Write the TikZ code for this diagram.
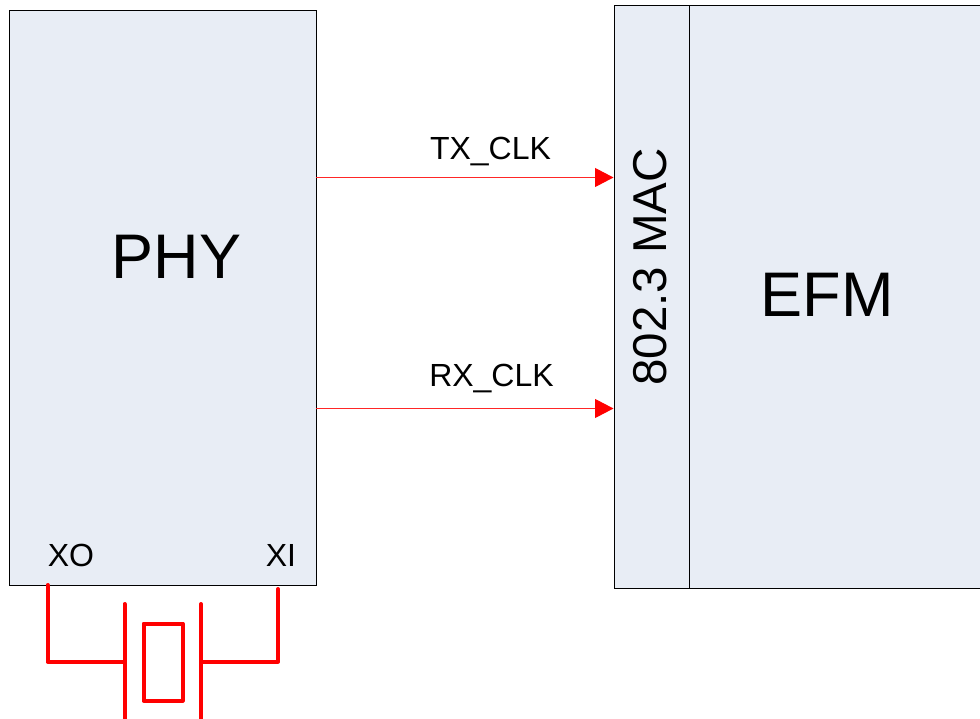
\documentclass[tikz,border=0pt]{standalone}
\usepackage{fontspec}
\setmainfont{Liberation Sans}
\usetikzlibrary{arrows.meta}
\definecolor{blockfill}{HTML}{E8EDF5}
\definecolor{sigred}{HTML}{FF0000}
\begin{document}
\begin{tikzpicture}[x=1pt,y=-1pt,
  block/.style={draw=black,line width=0.9pt,fill=blockfill,inner sep=0pt,anchor=north west},
  sig/.style={draw=sigred!85!white,line width=1pt,-{Triangle[length=18.5pt,width=19pt,fill=sigred,color=sigred]}},
  xtal/.style={draw=sigred,line width=4pt,line cap=round,line join=round},
  lbl/.style={inner sep=0pt,text=black,anchor=base},
  big/.style={lbl,font=\fontsize{63}{63}\selectfont},
  mid/.style={lbl,font=\fontsize{47.5}{47.5}\selectfont},
  small/.style={lbl,font=\fontsize{32}{32}\selectfont}]
\useasboundingbox (0,0) rectangle (980,719);
\clip (0,0) rectangle (980,719);
\node[block,minimum width=307pt,minimum height=575pt] (phy) at (9.3,10) {};
\node[block,minimum width=296pt,minimum height=583pt] (efm) at (689,5) {};
\node[block,minimum width=75.5pt,minimum height=583pt] (mac) at (613.5,5) {};
\node[big] (phylabel) at (176.5,279) {PHY};
\node[big] (efmlabel) at (827,317) {EFM};
\node[mid,rotate=90] (maclabel) at (666.5,267) {802.3 MAC};
\node[small] (txlabel) at (490.5,160) {TX\_CLK};
\node[small] (rxlabel) at (491.5,386) {RX\_CLK};
\node[small] (xolabel) at (71,566.5) {XO};
\node[small] (xilabel) at (281,566.5) {XI};
\coordinate (txs) at (316,177.5);
\coordinate (txe) at (613.5,177.5);
\coordinate (rxs) at (316,408.5);
\coordinate (rxe) at (613.5,408.5);
\draw[sig] (txs) -- (txe);
\draw[sig] (rxs) -- (rxe);
% crystal
\coordinate (xo) at (47.5,585);
\coordinate (xoc) at (47.5,661.5);
\coordinate (lp) at (124.5,661.5);
\coordinate (lpt) at (124.5,604);
\coordinate (lpb) at (124.5,722);
\coordinate (xi) at (278,589);
\coordinate (xic) at (278,661.5);
\coordinate (rp) at (201,661.5);
\coordinate (rpt) at (201,604);
\coordinate (rpb) at (201,722);
\draw[xtal] (xo) -- (xoc) -- (lp);
\draw[xtal] (xi) -- (xic) -- (rp);
\draw[xtal] (lpt) -- (lpb);
\draw[xtal] (rpt) -- (rpb);
\draw[xtal] (143.5,623.5) rectangle (182.5,700.5);
\end{tikzpicture}
\end{document}
